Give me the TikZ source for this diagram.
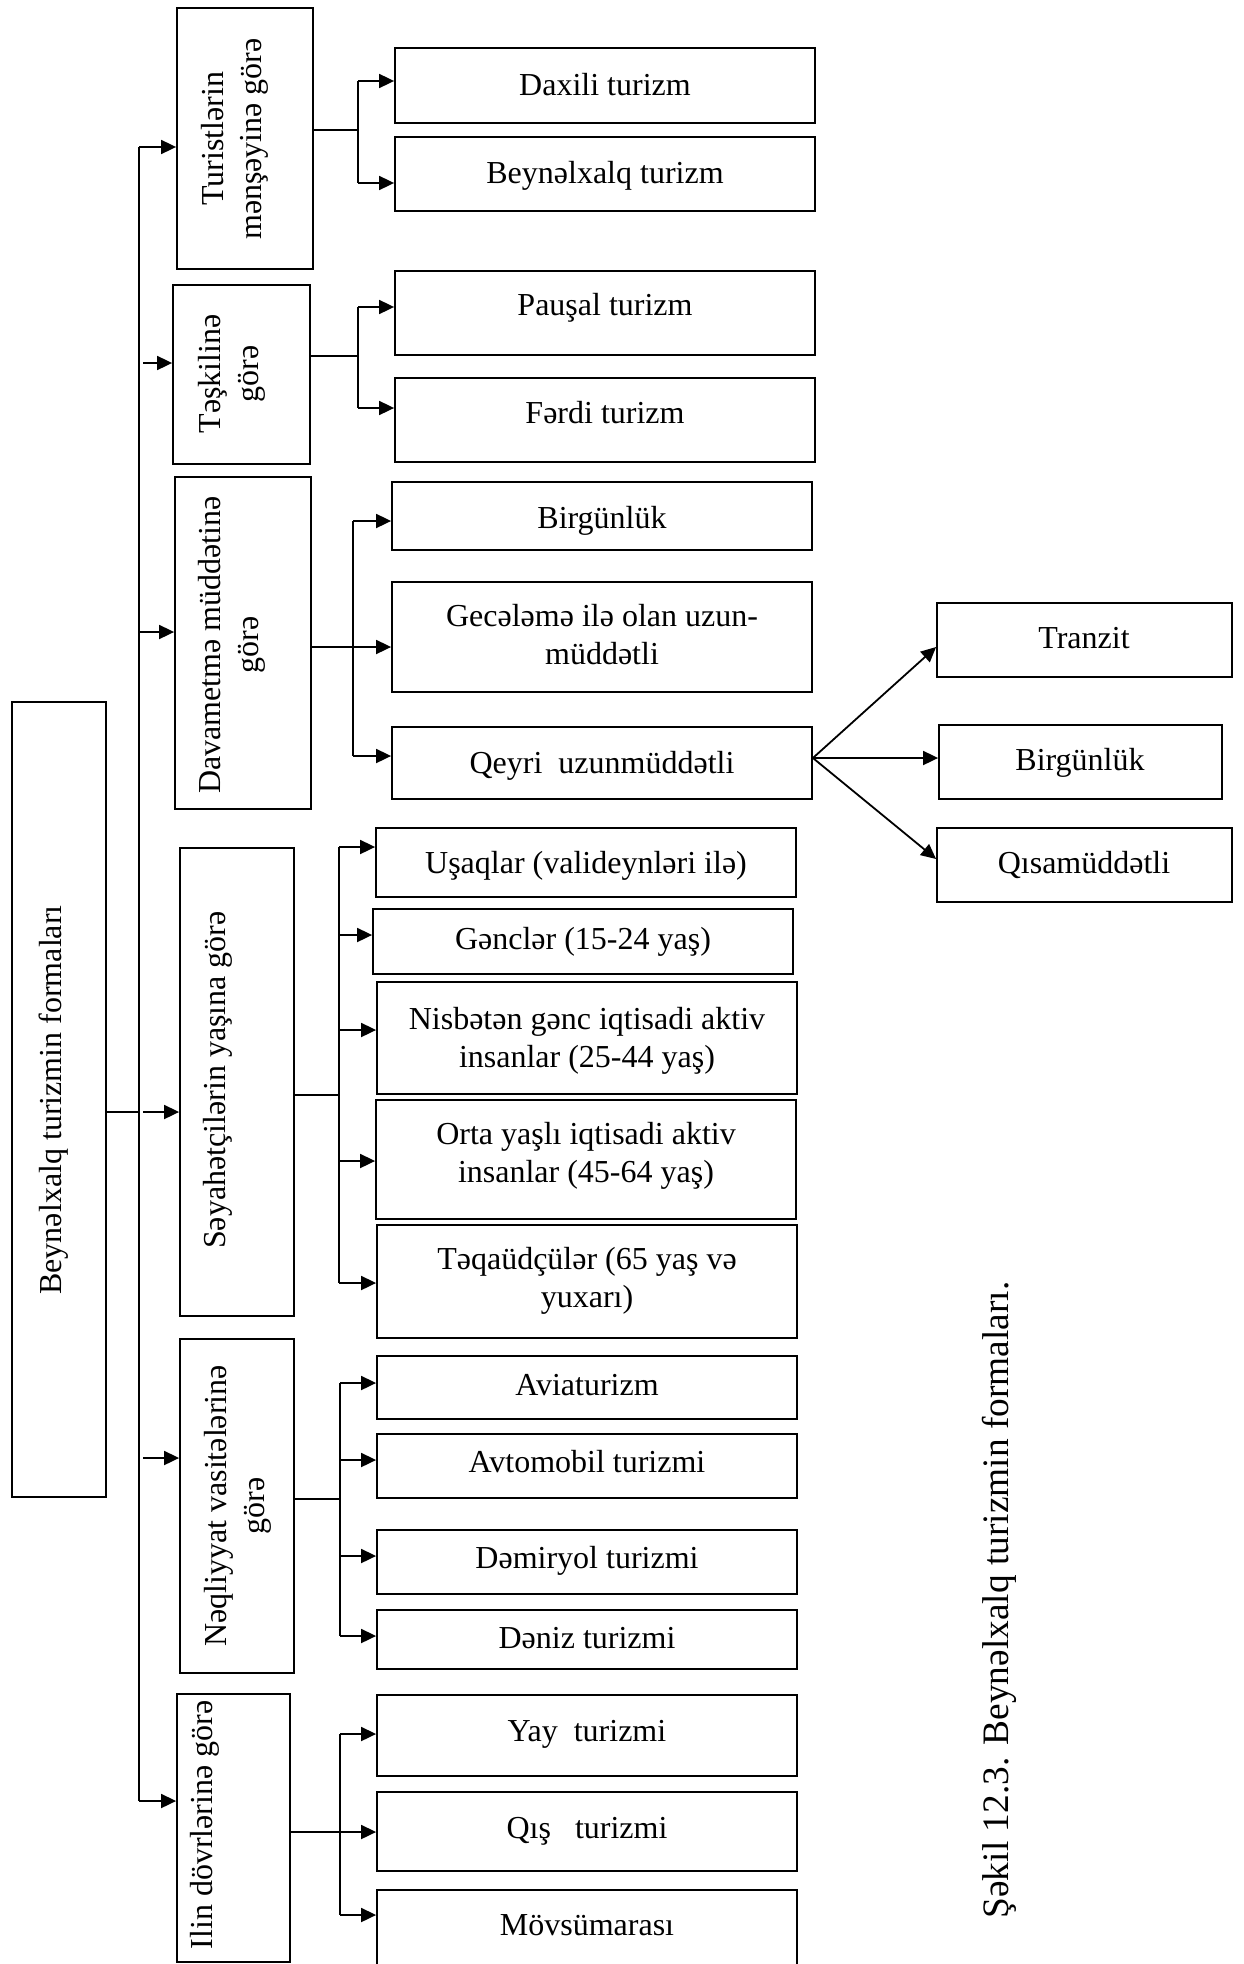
\documentclass[tikz,border=0pt]{standalone}
\usepackage{fontspec}
\setmainfont{Liberation Serif}
\usetikzlibrary{arrows.meta,fit}
\begin{document}
\begin{tikzpicture}[x=0.5pt,y=-0.5pt,
  every node/.style={font=\fontsize{16}{19}\selectfont},
  box/.style={draw, line width=0.9pt, inner sep=0pt},
  leaf/.style={inner sep=0pt, text height=10.6pt, text depth=0pt},
  leaftwo/.style={inner sep=0pt, align=center},
  vlabel/.style={rotate=90, align=center, inner sep=0pt},
  link/.style={line width=0.9pt},
  arr/.style={line width=0.9pt, -{Triangle[length=7.5pt,width=7pt]}}]
\useasboundingbox (0,0) rectangle (1243,1964);

% root
\node[box, fit={(12,702) (106,1497)}] (root) {};
\node[vlabel] (roott) at (54,1100) {Beynəlxalq turizmin formaları};

% classification criteria
\node[box, fit={(177,8) (313,269)}] (c1) {};
\node[vlabel] (c1t) at (235,139) {Turistlərin\\mənşəyinə görə};
\node[box, fit={(173,285) (310,464)}] (c2) {};
\node[vlabel] (c2t) at (232,374) {Təşkilinə\\görə};
\node[box, fit={(175,477) (311,809)}] (c3) {};
\node[vlabel] (c3t) at (232,645) {Davametmə müddətinə\\görə};
\node[box, fit={(180,848) (294,1316)}] (c4) {};
\node[vlabel] (c4t) at (218,1080) {Səyahətçilərin yaşına görə};
\node[box, fit={(180,1339) (294,1673)}] (c5) {};
\node[vlabel] (c5t) at (238,1506) {Nəqliyyat vasitələrinə\\görə};
\node[box, fit={(177,1694) (290,1962)}] (c6) {};
\node[vlabel] (c6t) at (205,1825) {Ilin dövrlərinə görə};

% forms: frames
\node[box, fit={(395,48) (815,123)}] (l11) {};
\node[box, fit={(395,137) (815,211)}] (l12) {};
\node[box, fit={(395,271) (815,355)}] (l21) {};
\node[box, fit={(395,378) (815,462)}] (l22) {};
\node[box, fit={(392,482) (812,550)}] (l31) {};
\node[box, fit={(392,582) (812,692)}] (l32) {};
\node[box, fit={(392,727) (812,799)}] (l33) {};
\node[box, fit={(937,603) (1232,677)}] (s1) {};
\node[box, fit={(939,725) (1222,799)}] (s2) {};
\node[box, fit={(937,828) (1232,902)}] (s3) {};
\node[box, fit={(376,828) (796,897)}] (l41) {};
\node[box, fit={(373,909) (793,974)}] (l42) {};
\node[box, fit={(377,982) (797,1094)}] (l43) {};
\node[box, fit={(376,1100) (796,1219)}] (l44) {};
\node[box, fit={(377,1225) (797,1338)}] (l45) {};
\node[box, fit={(377,1356) (797,1419)}] (l51) {};
\node[box, fit={(377,1434) (797,1498)}] (l52) {};
\node[box, fit={(377,1530) (797,1594)}] (l53) {};
\node[box, fit={(377,1610) (797,1669)}] (l54) {};
\node[box, fit={(377,1695) (797,1776)}] (l61) {};
\node[box, fit={(377,1792) (797,1871)}] (l62) {};
\node[box, fit={(377,1890) (797,1990)}] (l63) {};

% forms: texts
\node[leaf] (l11t) at (605,85) {Daxili turizm};
\node[leaf] (l12t) at (605,173) {Beynəlxalq turizm};
\node[leaf] (l21t) at (605,305) {Pauşal turizm};
\node[leaf] (l22t) at (605,413) {Fərdi turizm};
\node[leaf] (l31t) at (602,518) {Birgünlük};
\node[leaftwo] (l32t) at (602,635) {Gecələmə ilə olan uzun-\\müddətli};
\node[leaf] (l33t) at (602,763) {Qeyri\ \ uzunmüddətli};
\node[leaf] (s1t) at (1084,638) {Tranzit};
\node[leaf] (s2t) at (1080,760) {Birgünlük};
\node[leaf] (s3t) at (1084,863) {Qısamüddətli};
\node[leaf] (l41t) at (586,863) {Uşaqlar (valideynləri ilə)};
\node[leaf] (l42t) at (583,939) {Gənclər (15-24 yaş)};
\node[leaftwo] (l43t) at (587,1041) {Nisbətən gənc iqtisadi aktiv\\insanlar (25-44 yaş)};
\node[leaftwo] (l44t) at (586,1156) {Orta yaşlı iqtisadi aktiv\\insanlar (45-64 yaş)};
\node[leaftwo] (l45t) at (587,1281) {Təqaüdçülər (65 yaş və\\yuxarı)};
\node[leaf] (l51t) at (587,1385) {Aviaturizm};
\node[leaf] (l52t) at (587,1462) {Avtomobil turizmi};
\node[leaf] (l53t) at (587,1558) {Dəmiryol turizmi};
\node[leaf] (l54t) at (587,1638) {Dəniz turizmi};
\node[leaf] (l61t) at (587,1731) {Yay\ \ turizmi};
\node[leaf] (l62t) at (587,1828) {Qış\ \ \ turizmi};
\node[leaf] (l63t) at (587,1925) {Mövsümarası};

% caption
\node[rotate=90, font=\fontsize{18.67}{22}\selectfont] (cap) at (999,1600) {Şəkil 12.3. Beynəlxalq turizmin formaları.};

% main trunk
\coordinate (trTop) at (139,147);
\coordinate (trBot) at (139,1801);
\coordinate (trRoot) at (139,1112);
\draw[link] (trTop) -- (trBot);
\draw[link] (trRoot -| root.east) -- (trRoot);
\coordinate (tr2) at (143,363);
\coordinate (tr3) at (139,632);
\coordinate (tr4) at (143,1112);
\coordinate (tr5) at (143,1458);
\draw[arr] (trTop) -- (trTop -| c1.west);
\draw[arr] (tr2) -- (tr2 -| c2.west);
\draw[arr] (tr3) -- (tr3 -| c3.west);
\draw[arr] (tr4) -- (tr4 -| c4.west);
\draw[arr] (tr5) -- (tr5 -| c5.west);
\draw[arr] (trBot) -- (trBot -| c6.west);

% origin of tourists
\coordinate (j1) at (358,130);
\coordinate (j1a) at (358,81);
\coordinate (j1b) at (358,183);
\draw[link] (j1 -| c1.east) -- (j1);
\draw[link] (j1a) -- (j1b);
\draw[arr] (j1a) -- (j1a -| l11.west);
\draw[arr] (j1b) -- (j1b -| l12.west);

% organisation
\coordinate (j2) at (358,356);
\coordinate (j2a) at (358,307);
\coordinate (j2b) at (358,408);
\draw[link] (j2 -| c2.east) -- (j2);
\draw[link] (j2a) -- (j2b);
\draw[arr] (j2a) -- (j2a -| l21.west);
\draw[arr] (j2b) -- (j2b -| l22.west);

% duration
\coordinate (j3) at (353,647);
\coordinate (j3a) at (353,521);
\coordinate (j3b) at (353,756);
\draw[link] (j3a) -- (j3b);
\draw[arr] (j3 -| c3.east) -- (j3 -| l32.west);
\draw[arr] (j3a) -- (j3a -| l31.west);
\draw[arr] (j3b) -- (j3b -| l33.west);
\coordinate (qx) at (l33.east |- 0,758);
\draw[arr] (qx) -- (s1.west |- 0,647);
\draw[arr] (qx) -- (s2.west |- qx);
\draw[arr] (qx) -- (s3.west |- 0,859);

% age of travellers
\coordinate (j4) at (339,1095);
\coordinate (j4a) at (339,847);
\coordinate (j4b) at (339,935);
\coordinate (j4c) at (339,1030);
\coordinate (j4d) at (339,1161);
\coordinate (j4e) at (339,1283);
\draw[link] (j4 -| c4.east) -- (j4);
\draw[link] (j4a) -- (j4e);
\draw[arr] (j4a) -- (j4a -| l41.west);
\draw[arr] (j4b) -- (j4b -| l42.west);
\draw[arr] (j4c) -- (j4c -| l43.west);
\draw[arr] (j4d) -- (j4d -| l44.west);
\draw[arr] (j4e) -- (j4e -| l45.west);

% means of transport
\coordinate (j5) at (340,1499);
\coordinate (j5a) at (340,1383);
\coordinate (j5b) at (340,1460);
\coordinate (j5c) at (340,1556);
\coordinate (j5d) at (340,1636);
\draw[link] (j5 -| c5.east) -- (j5);
\draw[link] (j5a) -- (j5d);
\draw[arr] (j5a) -- (j5a -| l51.west);
\draw[arr] (j5b) -- (j5b -| l52.west);
\draw[arr] (j5c) -- (j5c -| l53.west);
\draw[arr] (j5d) -- (j5d -| l54.west);

% seasons
\coordinate (j6) at (340,1832);
\coordinate (j6a) at (340,1734);
\coordinate (j6b) at (340,1915);
\draw[link] (j6a) -- (j6b);
\draw[arr] (j6 -| c6.east) -- (j6 -| l62.west);
\draw[arr] (j6a) -- (j6a -| l61.west);
\draw[arr] (j6b) -- (j6b -| l63.west);
\end{tikzpicture}
\end{document}
